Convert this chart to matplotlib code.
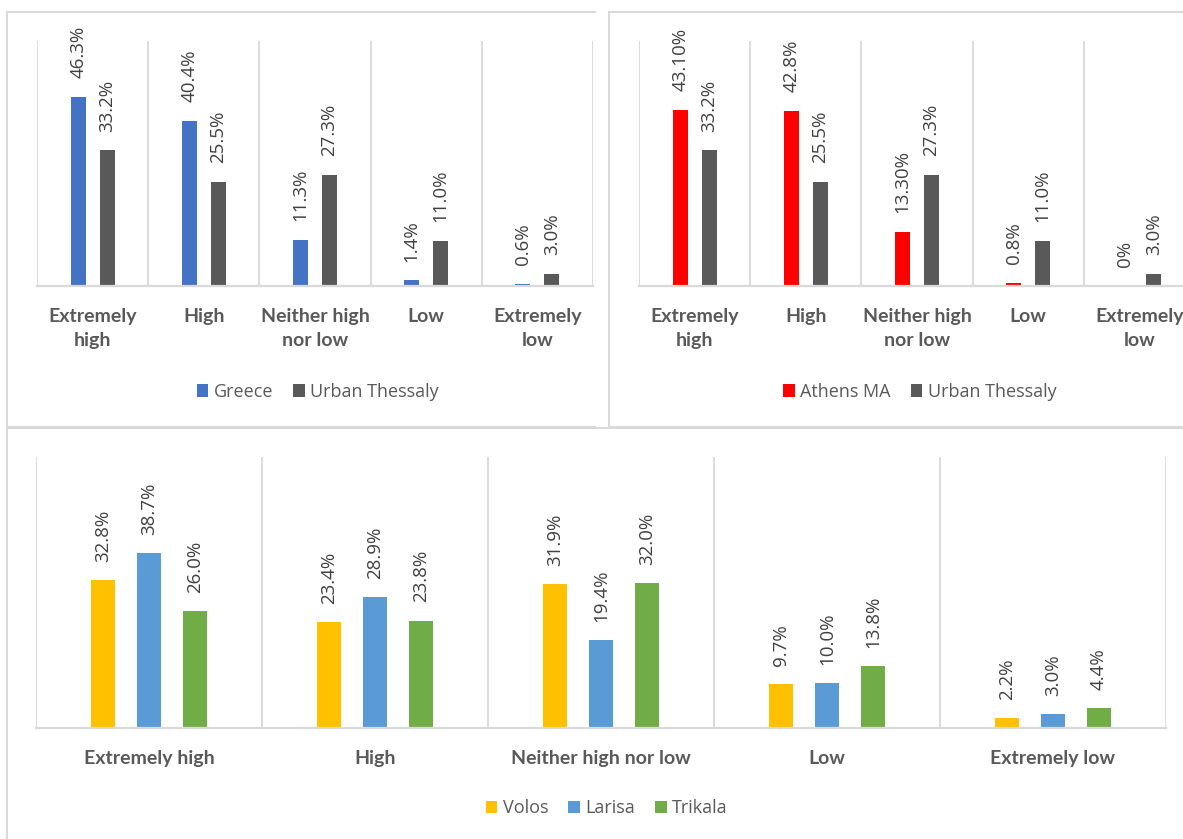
"""three bar panels: perceived levels for Greece / Athens MA / Thessaly cities"""

import numpy as np
import matplotlib.pyplot as plt
from matplotlib.lines import Line2D

# == data ==
cats_top = ["Extremely\nhigh", "High", "Neither high\nnor low", "Low", "Extremely\nlow"]
cats_bottom = ["Extremely high", "High", "Neither high nor low", "Low", "Extremely low"]

greece = [46.3, 40.4, 11.3, 1.4, 0.6]
athens = [43.10, 42.8, 13.30, 0.8, 0]
urban_thessaly = [33.2, 25.5, 27.3, 11.0, 3.0]
volos = [32.8, 23.4, 31.9, 9.7, 2.2]
larisa = [38.7, 28.9, 19.4, 10.0, 3.0]
trikala = [26.0, 23.8, 32.0, 13.8, 4.4]

# decimals printed on the labels of each series
dec_one = [1, 1, 1, 1, 1]
athens_dec = [2, 1, 2, 1, 0]

# == style ==
BLUE, GRAY, RED = "#4472C4", "#595959", "#FF0000"
GOLD, LBLUE, GREEN = "#FFC000", "#5B9BD5", "#70AD47"
LINE = "#d9d9d9"
TXT = "#595959"

W, H = 1183, 839
fig = plt.figure(figsize=(W / 100, H / 100), dpi=100)
fig.patch.set_facecolor("white")


# pixel helpers (origin top-left)
def fx(x):
    return x / W


def fy(y):
    return 1 - y / H


def pline(x0, y0, x1, y1):
    fig.add_artist(Line2D([fx(x0), fx(x1)], [fy(y0), fy(y1)], color=LINE,
                          lw=1.5, transform=fig.transFigure))


def add_axes(x0, y0, x1, y1):
    return fig.add_axes([fx(x0), fy(y1), fx(x1) - fx(x0), fy(y0) - fy(y1)])


def bar_panel(ax, cats, series, names, colors, decs, width, step, leg_y, label_pad):
    x = np.arange(len(cats))
    n = len(series)
    for i, (vals, name, col, dec) in enumerate(zip(series, names, colors, decs)):
        bars = ax.bar(x + (i - (n - 1) / 2) * step, vals, width, color=col, label=name, zorder=2)
        labels = [f"{v:.{d}f}%" for v, d in zip(vals, dec)]
        ax.bar_label(bars, labels=labels, rotation=90, padding=label_pad,
                     fontsize=13.5, color="#404040", family="Open Sans")

    ax.set_xlim(-0.5, len(cats) - 0.5)
    ax.set_ylim(0, 60)
    ax.set_yticks([])
    ax.set_xticks(x, cats)
    ax.set_xticks(np.arange(len(cats) + 1) - 0.5, minor=True)
    ax.grid(which="minor", axis="x", color=LINE, lw=1.3, zorder=0)
    ax.tick_params(which="both", length=0, pad=16)
    for lbl in ax.get_xticklabels():
        lbl.set_fontfamily("Lato")
        lbl.set_fontweight("bold")
        lbl.set_fontsize(14)
        lbl.set_color(TXT)
        lbl.set_linespacing(1.5)
    for s in ("top", "left", "right"):
        ax.spines[s].set_visible(False)
    ax.spines["bottom"].set_color(LINE)
    ax.spines["bottom"].set_linewidth(1.6)
    ax.patch.set_alpha(0)

    ax.legend(loc="center", bbox_to_anchor=(0.505, leg_y), ncol=n, frameon=False,
              prop=dict(family="Open Sans", size=13), labelcolor=TXT,
              handlelength=0.65, handleheight=0.7, handletextpad=0.3, columnspacing=1.1)


# == panel frames ==
pline(7, 12, 595, 12)
pline(7, 12, 7, 427)
pline(7, 427, 595, 427)
pline(609, 12, W + 5, 12)
pline(609, 12, 609, 427)
pline(609, 427, W + 5, 427)
pline(7, 428, W + 5, 428)
pline(7, 428, 7, H + 5)

# == panels ==
ax1 = add_axes(37, 41, 593, 286)
bar_panel(ax1, cats_top, [greece, urban_thessaly], ["Greece", "Urban Thessaly"],
          [BLUE, GRAY], [dec_one, dec_one], 0.135, 0.26, -0.433, 13.5)

ax2 = add_axes(639, 41, 1195, 286)
bar_panel(ax2, cats_top, [athens, urban_thessaly], ["Athens MA", "Urban Thessaly"],
          [RED, GRAY], [athens_dec, dec_one], 0.135, 0.26, -0.433, 13.5)

ax3 = add_axes(36, 457, 1166, 728)
bar_panel(ax3, cats_bottom, [volos, larisa, trikala], ["Volos", "Larisa", "Trikala"],
          [GOLD, LBLUE, GREEN], [dec_one, dec_one, dec_one], 0.106, 0.203, -0.297, 13)

fig.savefig("out.png", dpi=100)
